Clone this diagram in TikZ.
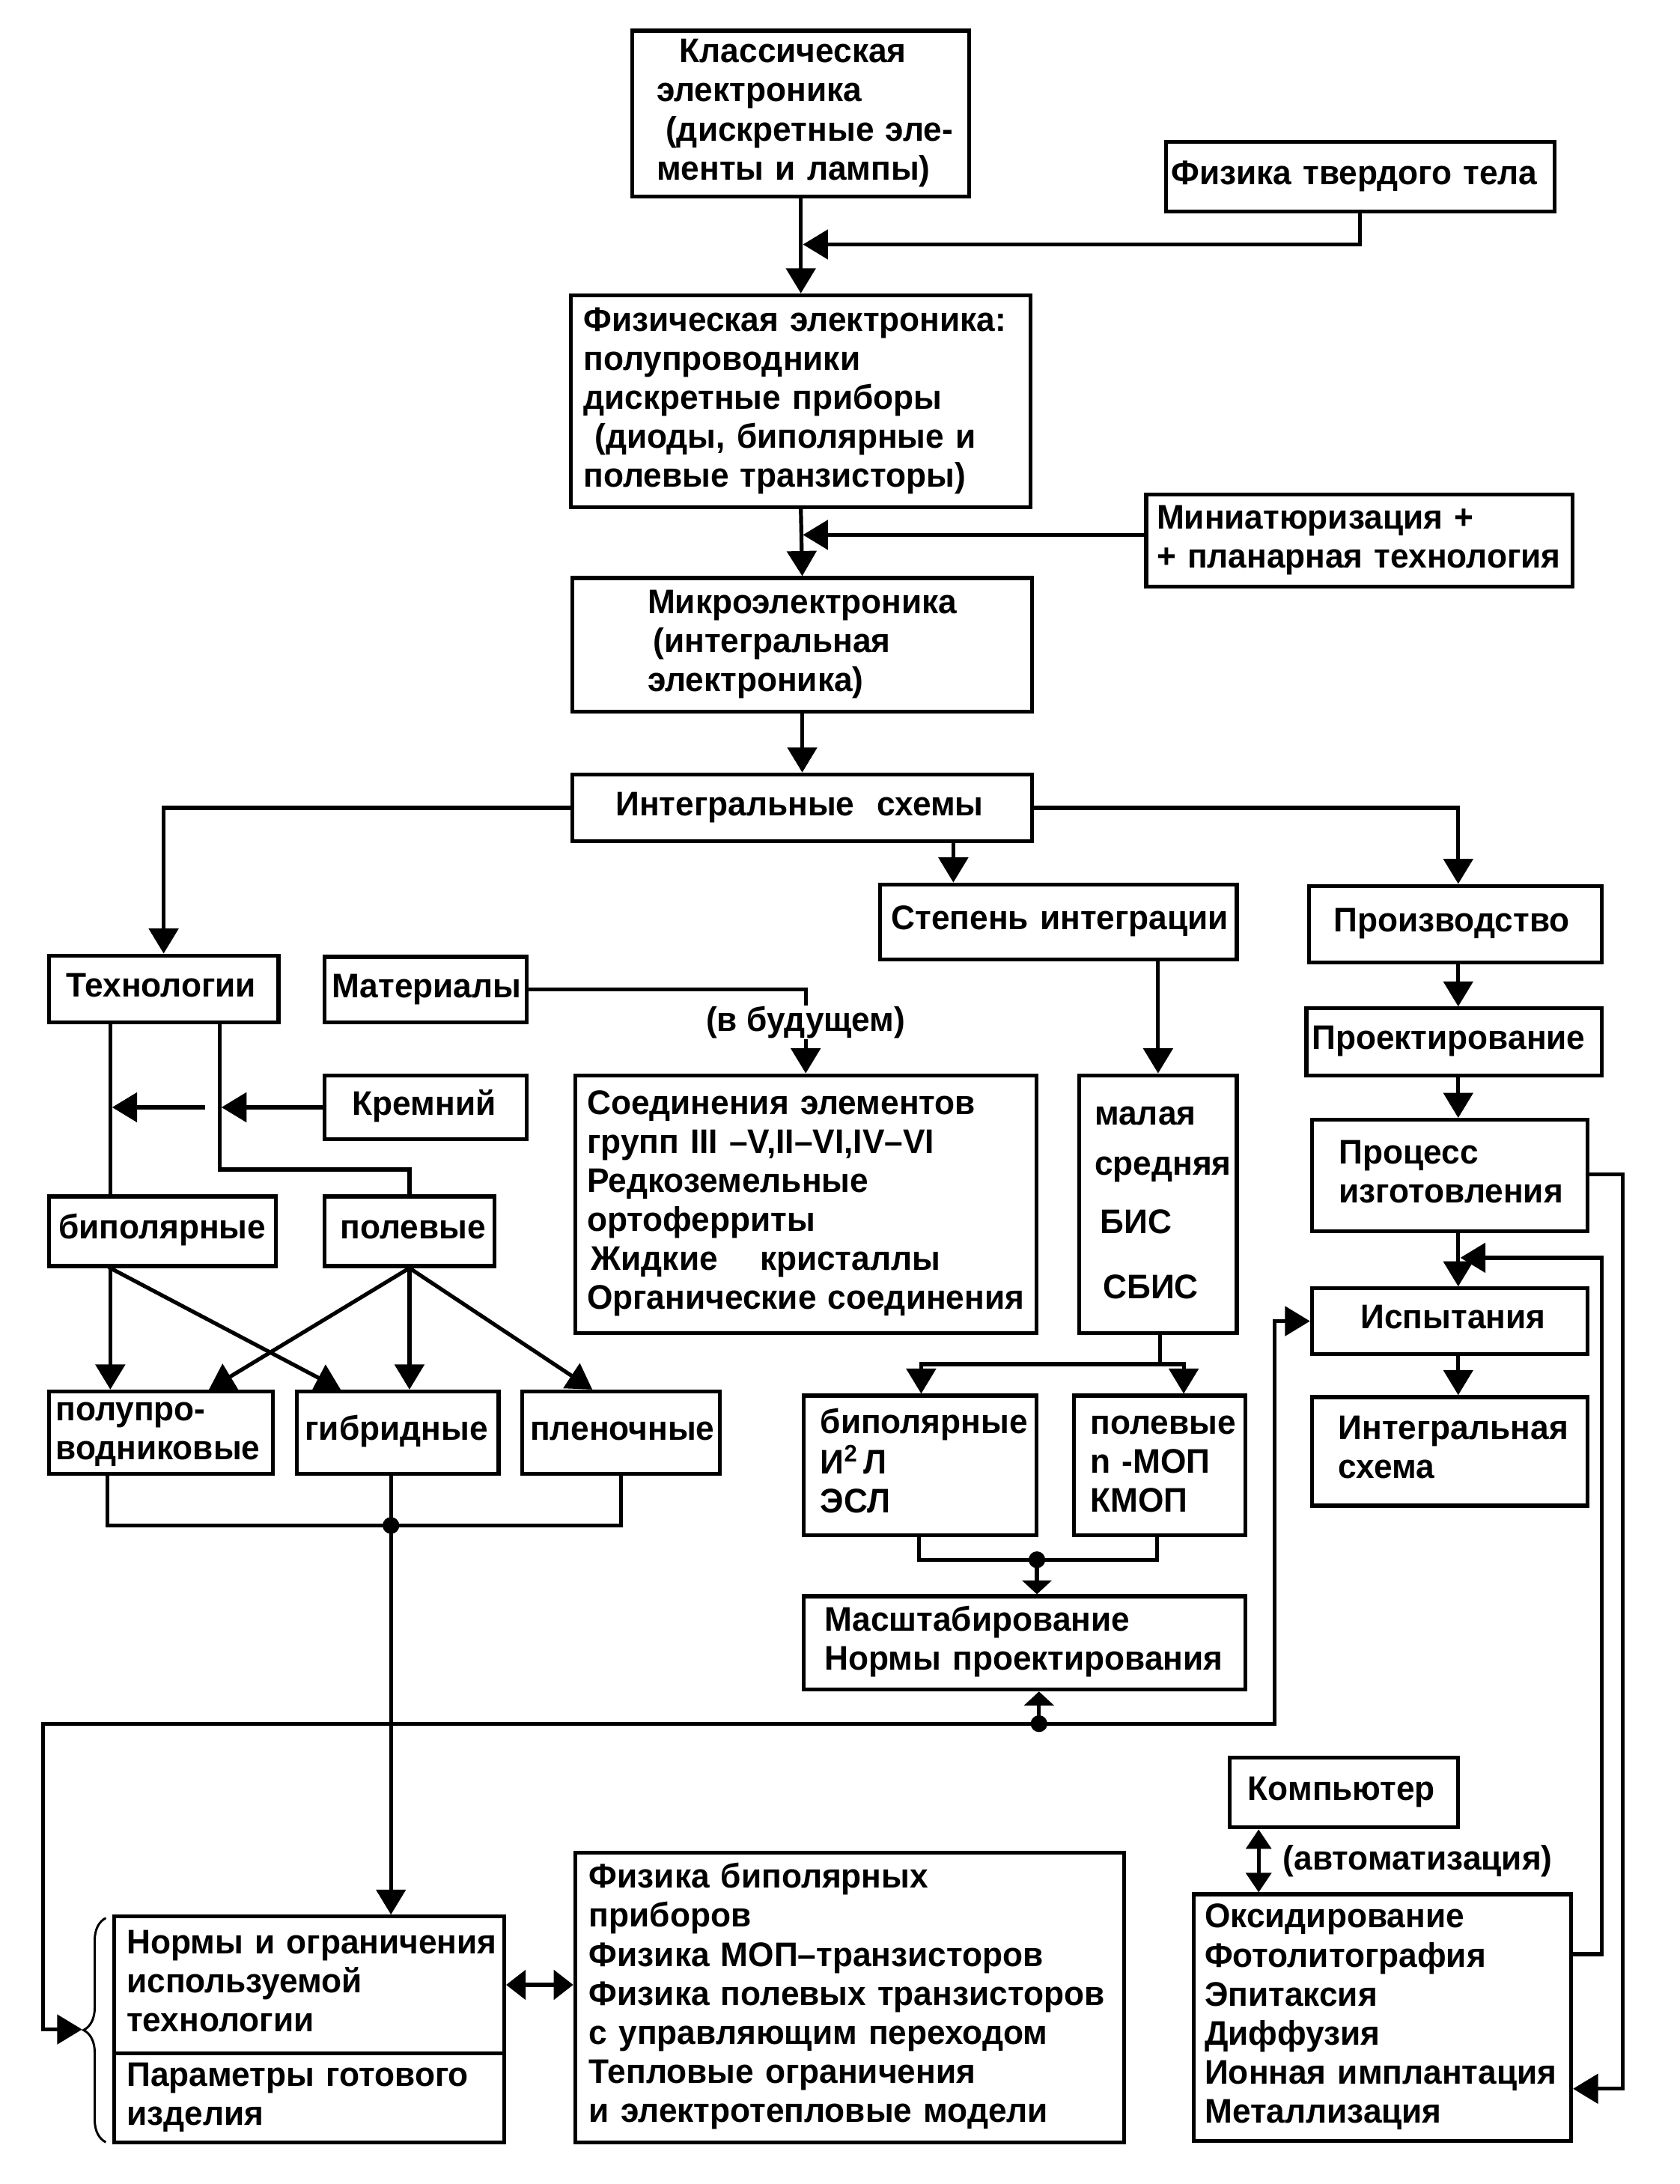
\documentclass[tikz,border=0pt]{standalone}
\usepackage{fontspec}
\setmainfont{Liberation Sans}[FakeStretch=0.97]
\usetikzlibrary{arrows.meta,decorations.pathreplacing}
\newcommand\txtfont{\fontsize{24.5}{28}\selectfont\bfseries}
\tikzset{
  boxst/.style={draw, line width=2.8pt, inner ysep=0pt, align=left, font=\txtfont, anchor=center},
  conn/.style={line width=2.8pt, line cap=rect},
  arr/.style={conn, -{Triangle[length=18pt,width=21pt]}},
  sarr/.style={conn, -{Triangle[length=10pt,width=21pt]}},
  darr/.style={conn, {Triangle[length=14pt,width=21pt]}-{Triangle[length=14pt,width=21pt]}},
  darrb/.style={conn, {Triangle[length=14pt,width=18pt]}-{Triangle[length=14pt,width=18pt]}},
  lbl/.style={font=\txtfont, inner sep=2pt}
}
% name, x1, y1, x2, y2, left pad, text
\newcommand\mybox[7]{%
  \pgfmathsetlengthmacro\bxw{(#4-#2-2*#6)*1pt}%
  \pgfmathsetlengthmacro\bxh{(#5-#3)*1pt}%
  \node[boxst, text width=\bxw, minimum height=\bxh, inner xsep=#6pt] (#1) at ({(#2+#4)/2},{(#3+#5)/2}) {\begin{tabular}{@{}l@{}}#7\end{tabular}};}
\begin{document}
\begin{tikzpicture}[x=1pt,y=-1pt]
\fill[white] (0,0) rectangle (1206,1568);
\useasboundingbox (0,0) rectangle (1206,1568);

% ---------- boxes ----------
\mybox{kl}{454}{22}{696}{141}{17.5}{\hspace*{16.5pt}Классическая\\ электроника\\ \hspace*{6.5pt}(дискретные эле-\\ менты и лампы)}
\mybox{ftt}{837}{102}{1116}{152}{4}{Физика твердого тела}
\mybox{fe}{410}{212}{740}{364}{9}{Физическая электроника:\\ полупроводники\\ дискретные приборы\\ \hspace*{8pt}(диоды, биполярные и\\ полевые транзисторы)}
\mybox{mini}{823}{355}{1129}{421}{7.5}{Миниатюризация +\\ + планарная технология}
\mybox{micro}{411}{415}{741}{511}{54}{Микроэлектроника\\ \hspace*{4pt}(интегральная\\ электроника)}
\mybox{ic}{411}{556}{741}{604}{31}{Интегральные\ \ схемы}
\mybox{st}{632}{635}{888}{689}{8}{Степень интеграции}
\mybox{pr}{940}{636}{1150}{691}{17.5}{Производство}
\mybox{tech}{35}{686}{200}{734}{12.7}{Технологии}
\mybox{mat}{233}{687}{378}{734}{5.4}{Материалы}
\mybox{proj}{938}{724}{1150}{772}{4}{Проектирование}
\mybox{krem}{233}{772}{378}{818}{20}{Кремний}
\mybox{soed}{413}{772}{744}{957}{8.5}{Соединения элементов\\ групп III –V,II–VI,IV–VI\\ Редкоземельные\\ ортоферриты\\ \hspace*{3pt}Жидкие\hspace{0.9em} кристаллы\\ Органические соединения}
\mybox{mal}{775}{772}{888}{957}{11}{малая\\[8pt] средняя\\[14pt] \hspace*{4pt}БИС\\[19pt] \hspace*{6pt}СБИС}
\mybox{proc}{942}{804}{1140}{884}{19.4}{Процесс\\ изготовления}
\mybox{isp}{942}{925}{1140}{972}{35}{Испытания}
\mybox{ics}{942}{1003}{1140}{1081}{19}{Интегральная\\ схема}
\mybox{bip}{35}{859}{198}{909}{7}{биполярные}
\mybox{pol}{233}{859}{355}{909}{11.5}{полевые}
\mybox{pp}{35}{999}{196}{1058}{5}{полупро-\\ водниковые}
\mybox{gib}{213}{999}{358}{1058}{6}{гибридные}
\mybox{plen}{375}{999}{517}{1058}{5.7}{пленочные}
\mybox{bip2}{577}{1002}{744}{1102}{12}{биполярные\\ И\textsuperscript{2}\,Л\\ ЭСЛ}
\mybox{pol2}{771}{1002}{894}{1102}{12}{полевые\\ n -МОП\\ КМОП}
\mybox{mas}{577}{1146}{894}{1213}{15}{Масштабирование\\ Нормы проектирования}
\mybox{comp}{883}{1262}{1047}{1312}{13}{Компьютер}
\mybox{okc}{857}{1360}{1128}{1537}{8}{Оксидирование\\ Фотолитография\\ Эпитаксия\\ Диффузия\\ Ионная имплантация\\ Металлизация}
\mybox{norm}{82}{1376}{362}{1474}{9}{Нормы и ограничения\\ используемой\\ технологии}
\mybox{param}{82}{1474}{362}{1538}{9}{Параметры готового\\ изделия}
\mybox{fiz}{413}{1330}{807}{1538}{10}{Физика биполярных\\ приборов\\ Физика МОП--транзисторов\\ Физика полевых транзисторов\\ с управляющим переходом\\ Тепловые ограничения\\ и электротепловые модели}

% ---------- labels ----------
\node[lbl] (fut) at (578.5,734) {(в будущем)};
\node[lbl, anchor=west] (avt) at (919,1336) {(автоматизация)};

% ---------- helper coordinates ----------
\coordinate (j1) at (576.5,175.5);
\coordinate (j2) at (576.5,384);
\coordinate (xr) at (1047,0);
\coordinate (xs) at (684.5,0);
\coordinate (xt1) at (79.2,0);
\coordinate (kj) at (157.7,839.6);
\coordinate (kt1) at (159,0);
\coordinate (k2) at (146,795);
\coordinate (k3) at (80.5,795);
\coordinate (c244) at (244.6,0);
\coordinate (c150) at (150,0);
\coordinate (c425) at (425.3,0);
\coordinate (c77) at (77,0);
\coordinate (c446) at (446,0);
\coordinate (d1) at (280.7,1095.2);
\coordinate (m1) at (833,979.4);
\coordinate (c661) at (661.4,0);
\coordinate (c850) at (849.9,0);
\coordinate (c660) at (660,0);
\coordinate (c830) at (830.6,0);
\coordinate (d2) at (744.5,1119.8);
\coordinate (d3) at (746,1237.5);
\coordinate (w1) at (30.8,1237.5);
\coordinate (w2) at (915.3,1237.5);
\coordinate (bt) at (59,1457);
\coordinate (c903) at (903.7,0);
\coordinate (o1) at (1165,843);
\coordinate (o2) at (1165,1499.6);
\coordinate (i1) at (1150,1403);
\coordinate (i2) at (1150,903);
\coordinate (i3) at (1048.5,903);

% ---------- top chain ----------
\draw[arr] (kl.south) -- (fe.north);
\draw[arr] (ftt.south) |- (j1);
\draw[arr] ([yshift=4pt]mini.west) -- (j2);
\draw[arr] (fe.south) -- (micro.north);
\draw[arr] (micro.south) -- (ic.north);
\draw[arr] (ic.west) -| (tech.north);
\draw[arr] (ic.east) -| (pr.north -| xr);
\draw[arr] (ic.south -| xs) -- (st.north -| xs);

% ---------- production column ----------
\draw[arr] (pr.south -| xr) -- (proj.north -| xr);
\draw[arr] (proj.south -| xr) -- (proc.north -| xr);
\draw[arr] (proc.south -| xr) -- (isp.north -| xr);
\draw[arr] (isp.south -| xr) -- (ics.north -| xr);
\draw[arr] (proc.east |- o1) -- (o1) -- (o2) -- (okc.east |- o2);
\draw[arr] (okc.east |- i1) -- (i1) -- (i2) -- (i3);
\draw[darrb] (comp.south -| c903) -- (okc.north -| c903);

% ---------- materials ----------
\draw[conn] (mat.east) -| (fut.north);
\draw[arr] (fut.south) -- (soed.north);

% ---------- technologies ----------
\draw[conn] (tech.south -| xt1) -- (bip.north -| xt1);
\draw[conn] (tech.south -| kj) -- (kj) -| (pol.north);
\draw[arr] (krem.west) -- (krem.west -| kt1);
\draw[arr] (k2) -- (k3);
\draw[arr] (bip.south -| xt1) -- (pp.north -| xt1);
\draw[arr] (bip.south -| xt1) -- (gib.north -| c244);
\draw[arr] (pol.south) -- (pp.north -| c150);
\draw[arr] (pol.south) -- (gib.north -| pol.south);
\draw[arr] (pol.south) -- (plen.north -| c425);
\draw[conn] (pp.south -| c77) |- (d1) -| (plen.south -| c446);
\draw[conn] (gib.south -| d1) -- (d1);
\fill (d1) circle[radius=6pt];
\draw[arr] (d1) -- (norm.north -| d1);

% ---------- integration degree ----------
\draw[arr] (st.south -| mal.north) -- (mal.north);
\draw[conn] (mal.south -| m1) -- (m1);
\draw[arr] (m1) -| (bip2.north -| c661);
\draw[arr] (m1) -| (pol2.north -| c850);
\draw[conn] (bip2.south -| c660) |- (d2) -| (pol2.south -| c830);
\fill (d2) circle[radius=6pt];
\draw[sarr] (d2) -- (mas.north -| d2);

% ---------- big loop ----------
\draw[conn] (w1) -- (w2);
\draw[arr] (w2) |- (isp.west);
\draw[arr] (w1) |- (bt);
\fill (d3) circle[radius=6pt];
\draw[sarr] (d3) -- (mas.south -| d3);
\draw[line width=1.6pt, decorate, decoration={brace, amplitude=16pt}] (76,1538) -- (76,1377);

% ---------- bottom ----------
\draw[darr] (norm.east) -- (fiz.west |- norm.east);
\end{tikzpicture}
\end{document}
